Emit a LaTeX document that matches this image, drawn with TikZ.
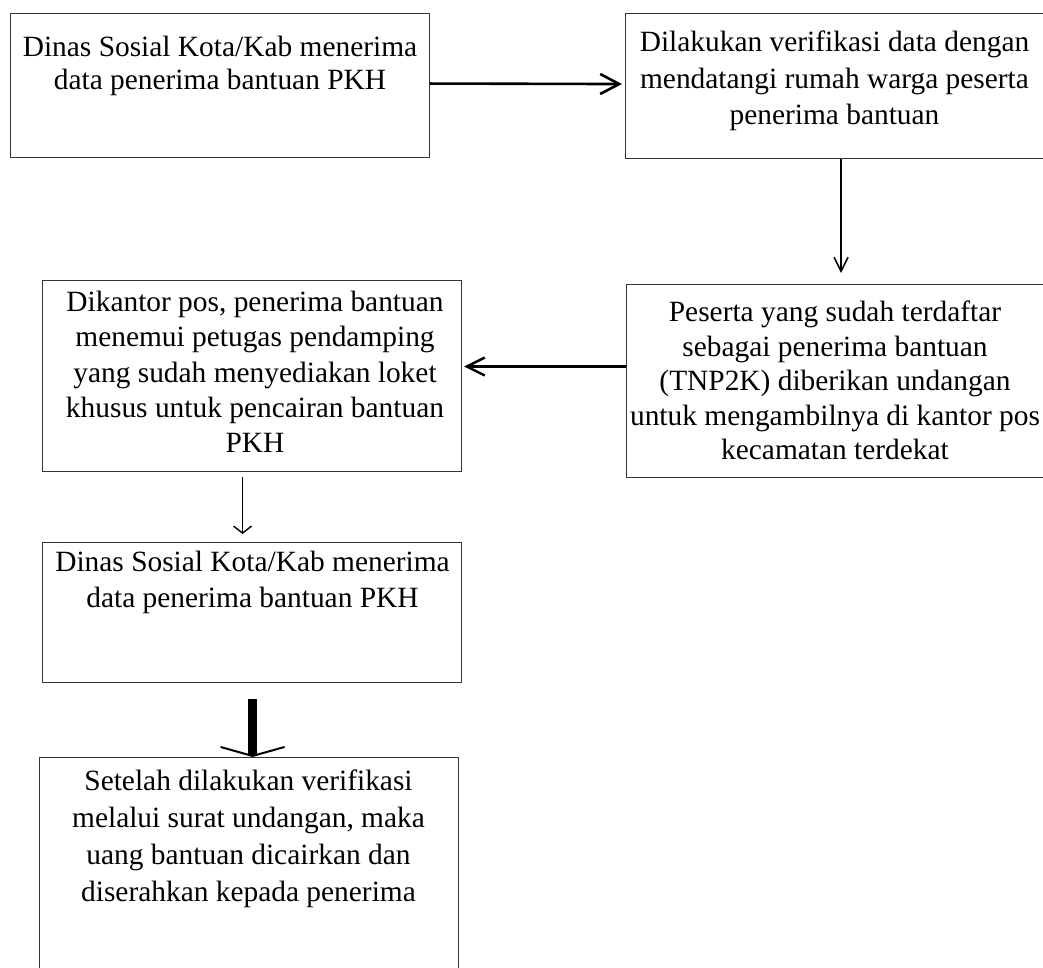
\documentclass[tikz,border=0pt]{standalone}
\usepackage{fontspec}
\setmainfont{Liberation Serif}
\usetikzlibrary{arrows.meta}
\begin{document}
\begin{tikzpicture}[x=1pt,y=-1pt,
  box/.style={draw=black!80, line width=1.1pt, anchor=north west, inner sep=0pt},
  txt/.style={align=center, anchor=north, inner sep=0pt, text=black},
  conn/.style={draw=black}]
\useasboundingbox (0,0) rectangle (1043,968);
% boxes
\node[box, minimum width=419pt, minimum height=144pt] (b1) at (10,13) {};
\node[box, minimum width=419pt, minimum height=145pt] (b2) at (625,13) {};
\node[box, minimum width=418pt, minimum height=193pt] (b3) at (626,284) {};
\node[box, minimum width=419pt, minimum height=191pt] (b4) at (42,280) {};
\node[box, minimum width=419pt, minimum height=140pt] (b5) at (42,542) {};
\node[box, minimum width=419pt, minimum height=225pt] (b6) at (39,757) {};
% texts
\node[txt, font=\fontsize{29.4}{33}\selectfont] (t1) at (220,36)
  {Dinas Sosial Kota/Kab menerima\\data penerima bantuan PKH};
\node[txt, font=\fontsize{29.4}{36.7}\selectfont] (t2) at (834.5,30.5)
  {Dilakukan verifikasi data dengan\\mendatangi rumah warga peserta\\penerima bantuan};
\node[txt, font=\fontsize{29.4}{34.5}\selectfont] (t3) at (835,301)
  {Peserta yang sudah terdaftar\\sebagai penerima bantuan\\(TNP2K) diberikan undangan\\untuk mengambilnya di kantor pos\\kecamatan terdekat};
\node[txt, font=\fontsize{29.4}{35.3}\selectfont] (t4) at (255,291)
  {Dikantor pos, penerima bantuan\\menemui petugas pendamping\\yang sudah menyediakan loket\\khusus untuk pencairan bantuan\\PKH};
\node[txt, font=\fontsize{29.4}{36}\selectfont] (t5) at (252.5,551)
  {Dinas Sosial Kota/Kab menerima\\data penerima bantuan PKH};
\node[txt, font=\fontsize{29.4}{36.7}\selectfont] (t6) at (248.5,770)
  {Setelah dilakukan verifikasi\\melalui surat undangan, maka\\uang bantuan dicairkan dan\\diserahkan kepada penerima};
% connectors
\draw[conn, line width=2.6pt, -{Straight Barb[length=19pt,width=20pt]}, shorten >=3pt]
  ([yshift=2pt]b1.east) -- ([yshift=2pt]b2.west);
\draw[conn, line width=1.6pt, -{Straight Barb[length=14pt,width=14pt]}, shorten >=11pt]
  ([xshift=6pt]b2.south) -- ([xshift=6pt]b2.south |- b3.north);
\draw[conn, line width=2.4pt, -{Straight Barb[length=18pt,width=18pt]}, shorten >=2pt]
  ([yshift=14.5pt]b3.west) -- ([yshift=14.5pt]b3.west -| b4.east);
\draw[conn, line width=1.4pt, -{Straight Barb[length=7pt,width=18pt]}, shorten <=5pt, shorten >=8pt]
  ([xshift=-9.5pt]b4.south) -- ([xshift=-9.5pt]b4.south |- b5.north);
\draw[conn, line width=9pt, -{Straight Barb[length=9pt,width=64pt,line width=2pt]}, shorten <=16pt]
  ([xshift=0.5pt]b5.south) -- ([xshift=0.5pt]b5.south |- b6.north);
\end{tikzpicture}
\end{document}
